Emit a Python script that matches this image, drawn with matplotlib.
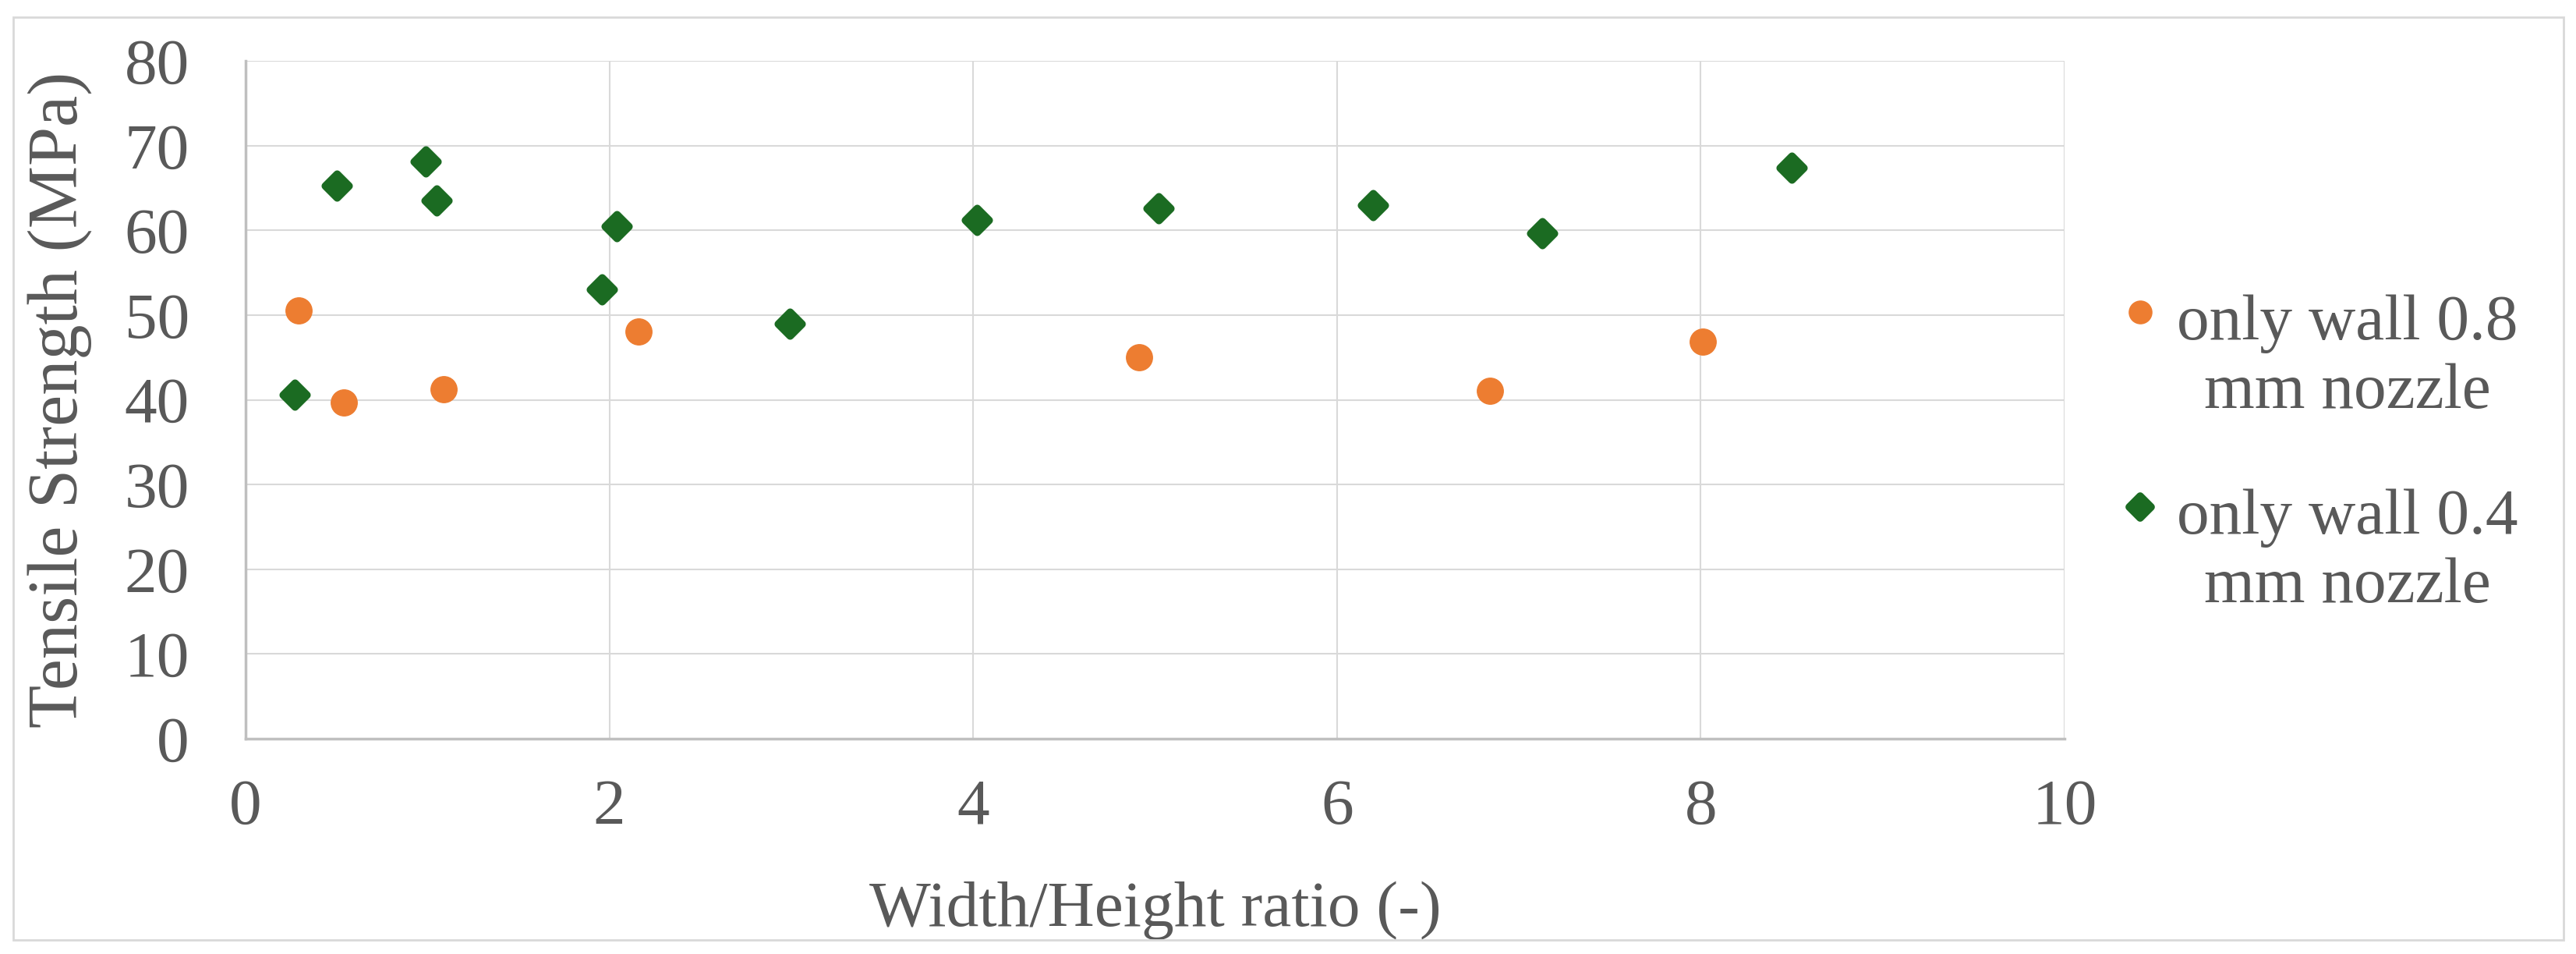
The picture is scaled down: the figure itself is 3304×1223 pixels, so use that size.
import matplotlib
matplotlib.use("Agg")
import matplotlib.pyplot as plt
from matplotlib.patches import Rectangle
from matplotlib.lines import Line2D
from matplotlib.markers import MarkerStyle

# data
x_08 = [0.29, 0.54, 1.09, 2.16, 4.91, 6.84, 8.01]
y_08 = [50.5, 39.7, 41.2, 48.1, 45.0, 41.1, 46.9]

x_04 = [0.27, 0.50, 0.99, 1.05, 1.96, 2.04, 2.99, 4.02, 5.02, 6.20, 7.13, 8.50]
y_04 = [40.6, 65.3, 68.1, 63.5, 53.0, 60.5, 49.0, 61.2, 62.6, 63.0, 59.7, 67.4]

label_08 = "only wall 0.8\nmm nozzle"
label_04 = "only wall 0.4\nmm nozzle"

xticks = [0, 2, 4, 6, 8, 10]
yticks = [0, 10, 20, 30, 40, 50, 60, 70, 80]

W, H = 3305, 1223
txt = "#595959"
orange = "#ED7D31"
green = "#1B6B22"
fs = 60

plt.rcParams['font.family'] = ['Liberation Serif', 'DejaVu Serif']

fig = plt.figure(figsize=(W / 100, H / 100), dpi=100)
ax = fig.add_axes([315 / W, 1 - 947 / H, (2648 - 315) / W, (947 - 78) / H])

diamond = MarkerStyle('D', joinstyle='round')

ax.scatter(x_08, y_08, s=580, marker='o', color=orange, edgecolors=orange,
           linewidths=1, zorder=3)
sc = ax.scatter(x_04, y_04, s=240, marker=diamond, color=green, edgecolors=green,
                linewidths=7, zorder=3)
sc.set_joinstyle('round')

ax.set_xlim(0, 10)
ax.set_ylim(0, 80)
ax.set_xticks(xticks)
ax.set_yticks(yticks)
ax.grid(True, color='#d9d9d9', linewidth=1.5)
ax.set_axisbelow(True)
for s in ['top', 'right']:
    ax.spines[s].set_visible(False)
for s in ['left', 'bottom']:
    ax.spines[s].set_color('#bfbfbf')
    ax.spines[s].set_linewidth(2.5)
ax.tick_params(length=0, labelsize=fs, labelcolor=txt)
ax.tick_params(axis='y', pad=52)
ax.tick_params(axis='x', pad=37)

ax.set_xlabel("Width/Height ratio (-)", fontsize=fs, color=txt, labelpad=40)
ax.set_ylabel("Tensile Strength (MPa)", fontsize=65, color=txt, labelpad=30)

# legend on the right, marker level with the first text line
# (last value = baseline of the second text line, in pixels from the top)
entries = [(label_08, orange, MarkerStyle('o'), 22, 0, 400, 523),
           (label_04, green, diamond, 14, 7, 650, 772)]
for lab, col, mk, ms, mew, my, ty in entries:
    h = Line2D([2745 / W], [1 - my / H], transform=fig.transFigure, marker=mk,
               markersize=ms, color=col, markeredgecolor=col, markeredgewidth=mew,
               linestyle='none')
    fig.add_artist(h)
    fig.text(3011 / W, 1 - ty / H, lab, fontsize=fs, color=txt, ha='center',
             va='baseline', multialignment='center', linespacing=1.22)

fig.patches.append(Rectangle((17 / W, 1 - 1205 / H), (3288 - 17) / W, (1205 - 22) / H,
                             transform=fig.transFigure, fill=False,
                             edgecolor='#d9d9d9', linewidth=2))

fig.savefig("out.png", dpi=100)
